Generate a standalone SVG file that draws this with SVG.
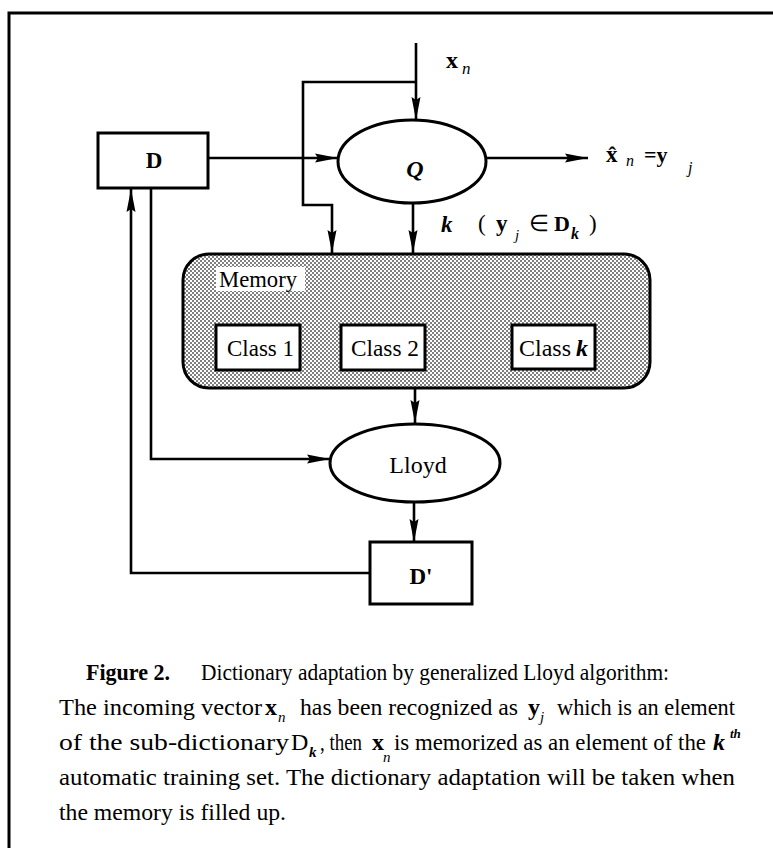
<svg xmlns="http://www.w3.org/2000/svg" width="773" height="848" viewBox="0 0 773 848">
<style>
text{font-family:"Liberation Serif","Times New Roman",serif;fill:#000}
.ln{fill:none;stroke:#000;stroke-width:2.6}
.shape{fill:#fff;stroke:#000;stroke-width:3}
.b{font-weight:bold}
.i{font-style:italic}
.lbl{font-size:24px}
.cap{font-size:24px}
</style>
<defs>
<marker id="ah" markerUnits="userSpaceOnUse" markerWidth="24" markerHeight="10" refX="23" refY="5" orient="auto">
<path d="M0,0.5 L23,5 L0,9.5 L3,5 z" fill="#000"/>
</marker>
<pattern id="stip" patternUnits="userSpaceOnUse" width="4" height="4">
<rect width="4" height="4" fill="#fff"/>
<rect width="2" height="2" fill="#808080"/>
<rect x="2" y="2" width="2" height="2" fill="#808080"/>
</pattern>
</defs>
<rect width="773" height="848" fill="#fff"/>
<path d="M9,848 V13 H773" fill="none" stroke="#000" stroke-width="3"/>

<g id="connectors">
<path class="ln" d="M416,43 V120" marker-end="url(#ah)"/>
<path class="ln" d="M416,82 H303 V205 H332 V253" marker-end="url(#ah)"/>
<path class="ln" d="M208,158 H338" marker-end="url(#ah)"/>
<path class="ln" d="M486,158 H588" marker-end="url(#ah)"/>
<path class="ln" d="M413,203 V253" marker-end="url(#ah)"/>
<path class="ln" d="M333,255 L510,325" stroke-width="3" marker-end="url(#ah)"/>
<path class="ln" d="M415,388 V423" marker-end="url(#ah)"/>
<path class="ln" d="M151,188 V459 H330" stroke-width="3" marker-end="url(#ah)"/>
<path class="ln" d="M414,502 V542" marker-end="url(#ah)"/>
<path class="ln" d="M370,573 H131 V189" marker-end="url(#ah)"/>
</g>

<g id="D">
<rect class="shape" x="98" y="133" width="110" height="55"/>
<text class="b" x="154" y="168" font-size="23" text-anchor="middle">D</text>
</g>

<g id="Q">
<ellipse class="shape" cx="412" cy="161.5" rx="74" ry="41.5"/>
<text class="i b" x="415" y="177" font-size="24" text-anchor="middle">Q</text>
</g>

<g id="memory">
<rect x="183" y="254" width="467" height="134" rx="26" fill="url(#stip)" stroke="#000" stroke-width="3"/>
<rect x="216" y="267" width="89" height="24" fill="#fff"/>
<text class="lbl" x="219" y="287" textLength="78" lengthAdjust="spacingAndGlyphs">Memory</text>
</g>

<g id="class1">
<rect class="shape" x="216" y="325" width="84" height="45"/>
<text class="lbl" x="227" y="356" textLength="67" lengthAdjust="spacingAndGlyphs">Class 1</text>
</g>
<g id="class2">
<rect class="shape" x="341" y="325" width="84" height="45"/>
<text class="lbl" x="351" y="356" textLength="68" lengthAdjust="spacingAndGlyphs">Class 2</text>
</g>
<g id="classk">
<rect class="shape" x="512" y="325" width="83" height="44"/>
<text class="lbl" x="519" y="356" textLength="52" lengthAdjust="spacingAndGlyphs">Class</text>
<text class="lbl i b" x="576" y="356">k</text>
</g>

<g id="Lloyd">
<ellipse class="shape" cx="415" cy="463" rx="85" ry="39"/>
<text class="lbl" x="418" y="473" text-anchor="middle">Lloyd</text>
</g>

<g id="Dprime">
<rect class="shape" x="370" y="542" width="102" height="62"/>
<text class="b" x="421" y="584" font-size="23" text-anchor="middle">D'</text>
</g>

<g id="labels">
<text class="b" x="446" y="68" font-size="24">x</text>
<text class="i" x="462" y="74" font-size="17">n</text>

<text class="b" x="606" y="162" font-size="23">x̂</text>
<text class="i" x="626" y="166" font-size="16">n</text>
<text class="b" x="644" y="162" font-size="22">=y</text>
<text class="i" x="688" y="173" font-size="16">j</text>

<text class="i b" x="441" y="232" font-size="23">k</text>
<text x="478" y="231" font-size="23">(</text>
<text class="b" x="496" y="231" font-size="23">y</text>
<text class="i" x="515" y="240" font-size="15">j</text>
<text x="529" y="231" font-size="23">∈</text>
<text class="b" x="554" y="231" font-size="22">D</text>
<text class="i b" x="571" y="239" font-size="16">k</text>
<text x="589" y="231" font-size="23">)</text>
</g>

<g id="caption" class="cap">
<text class="b" x="86" y="680" textLength="84" lengthAdjust="spacingAndGlyphs">Figure 2.</text>
<text x="201" y="680" textLength="468" lengthAdjust="spacingAndGlyphs">Dictionary adaptation by generalized Lloyd algorithm:</text>

<text x="59" y="715" textLength="203" lengthAdjust="spacingAndGlyphs">The incoming vector</text>
<text class="b" x="265" y="715">x</text>
<text class="i" x="278" y="722" font-size="15">n</text>
<text x="300" y="715" textLength="218" lengthAdjust="spacingAndGlyphs">has been recognized as</text>
<text class="b" x="528" y="715">y</text>
<text class="i" x="540" y="722" font-size="15">j</text>
<text x="557" y="715" textLength="178" lengthAdjust="spacingAndGlyphs">which  is an element</text>

<text x="59" y="750" textLength="230" lengthAdjust="spacingAndGlyphs">of the sub-dictionary</text>
<text x="291" y="750">D</text>
<text class="i b" x="309" y="757" font-size="15">k</text>
<text x="320" y="750" textLength="42" lengthAdjust="spacingAndGlyphs">, then</text>
<text class="b" x="372" y="750">x<tspan class="i" font-weight="normal" font-size="15" dx="-1" dy="12">n</tspan></text>
<text x="394" y="750" textLength="312" lengthAdjust="spacingAndGlyphs">is memorized as an element of the</text>
<text class="i b" x="713" y="750">k<tspan font-size="13" dx="5" dy="-12">th</tspan></text>

<text x="59" y="785" textLength="676" lengthAdjust="spacingAndGlyphs">automatic  training  set. The dictionary  adaptation  will  be taken when</text>

<text x="59" y="820" textLength="227" lengthAdjust="spacingAndGlyphs">the memory is filled up.</text>
</g>
</svg>
